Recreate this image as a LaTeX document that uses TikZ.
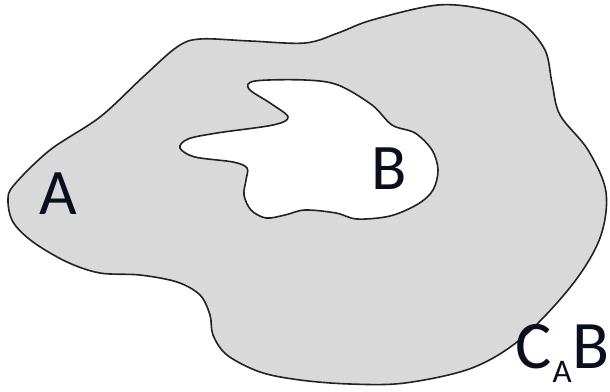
\documentclass[tikz,border=0pt]{standalone}
\usepackage{fontspec}
\setmainfont{Carlito}
\definecolor{regiongray}{HTML}{D9D9D9}
\definecolor{edgeink}{HTML}{222222}
\definecolor{labelink}{HTML}{0A0F1E}
\tikzset{
  region/.style={fill=regiongray, draw=edgeink, line width=1.6pt},
  hole/.style={fill=white, draw=edgeink, line width=1.6pt},
  biglabel/.style={inner sep=0pt, text=labelink, font=\fontsize{65}{70}\selectfont},
}
\begin{document}
\begin{tikzpicture}[x=1pt, y=-1pt]
\useasboundingbox (0,0) rectangle (610,391);
% outer set A
\path[region] plot[smooth cycle, tension=0.55] coordinates {
 (200,39) (250,41) (305,43) (338,33) (372,20) (438,5) (488,10) (522,23)
 (545,50) (552,83) (560,115) (588,150) (606,192) (600,238) (572,285)
 (522,338) (472,368) (405,383) (350,384) (300,380) (260,372) (227,355)
 (213,335) (210,315) (200,295) (177,282) (140,275) (100,273) (67,262)
 (33,242) (13,222) (8,200) (14,185) (50,150) (100,117) (143,77) (177,47)
};
% hole B
\path[hole] plot[smooth cycle, tension=0.55] coordinates {
 (255,81) (305,80) (338,85) (372,105) (392,125) (415,133) (432,150)
 (438,170) (433,190) (418,204) (390,216) (357,219) (336,213) (305,210)
 (285,215) (266,218) (251,210) (244,195) (246,180) (247,168) (233,162)
 (195,157) (180,148) (188,139) (217,133) (273,125) (288,117) (270,103)
 (249,89)
};
\node[biglabel, anchor=base] (labA) at (58,214) {A};
\node[biglabel, anchor=base] (labB) at (389,189) {B};
\node[biglabel, anchor=base east, font=\fontsize{68}{72}\selectfont] (labCAB) at (610,368)
  {C\kern1pt\raisebox{-14pt}{\fontsize{33}{36}\selectfont A}\kern1pt B};
\end{tikzpicture}
\end{document}
